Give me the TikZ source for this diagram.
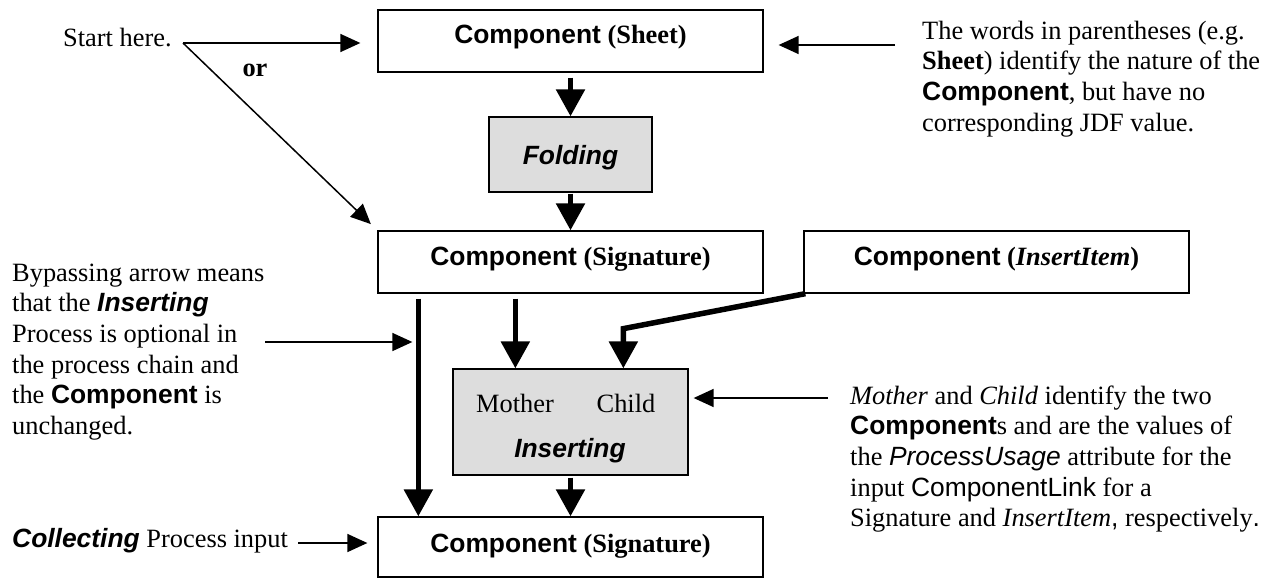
\documentclass[tikz,border=0pt]{standalone}
\usepackage{fontspec}
\setmainfont{Liberation Serif}
\setsansfont{Liberation Sans}
\usetikzlibrary{arrows.meta,calc}
\definecolor{procgray}{RGB}{221,221,221}
\begin{document}
\begin{tikzpicture}[x=1pt,y=-1pt,
  every node/.style={font=\fontsize{26.4}{30.6}\selectfont},
  compbox/.style={draw, line width=1.3pt, minimum width=385pt, minimum height=62pt, inner sep=0pt, text height=18pt, text depth=12pt},
  procbox/.style={draw, line width=1.3pt, fill=procgray, inner sep=0pt},
  thickarrow/.style={line width=5.5pt, -{Triangle[length=27pt,width=28pt]}},
  thinarrow/.style={line width=1.5pt, -{Triangle[length=20pt,width=18pt]}},
  note/.style={inner sep=0pt, align=left, anchor=north west},
  lbl/.style={inner sep=0pt}
  ]
\path[use as bounding box, fill=white] (0,0) rectangle (1281,578);

% boxes
\node[compbox] (sheet) at (570.5,41) {\textsf{\bfseries Component} \textbf{(Sheet)}};
\node[procbox, minimum width=163pt, minimum height=75pt, text height=19pt, text depth=0pt] (folding) at (570.5,154.5) {\textsf{\bfseries\itshape Folding}};
\node[compbox] (sig) at (570.5,262) {\textsf{\bfseries Component} \textbf{(Signature)}};
\node[compbox] (insitem) at (996.5,262) {\textsf{\bfseries Component} \textbf{(\textit{InsertItem})}};
\node[procbox, minimum width=235pt, minimum height=106pt] (inserting) at (570.5,422) {};
\node[lbl, anchor=base] (mother) at (515,412) {Mother};
\node[lbl, anchor=base] (child) at (626,412) {Child};
\node[lbl, anchor=base] (instext) at (570,457) {\textsf{\bfseries\itshape Inserting}};
\node[compbox, minimum height=60pt, text depth=8pt] (sig2) at (570.5,547) {\textsf{\bfseries Component} \textbf{(Signature)}};

% annotations
\node[lbl, anchor=base west] (start) at (63,47) {Start here.};
\node[lbl, anchor=base] (or) at (255,76) {\textbf{or}};
\node[note] (wordsnote) at (922,17.58) {\strut The words in parentheses (e.g.\\
\textbf{Sheet}) identify the nature of the\\
\textsf{\bfseries Component}, but have no\\
corresponding JDF value.};
\node[note] (bypassnote) at (12,259.58) {\strut Bypassing arrow means\\
that the \textsf{\bfseries\itshape Inserting}\\
Process is optional in\\
the process chain and\\
the \textsf{\bfseries Component} is\\
unchanged.};
\node[note] (mothernote) at (850,382.58) {\strut \textit{Mother} and \textit{Child} identify the two\\
\textsf{\bfseries Component}s and are the values of\\
the \textsf{\itshape ProcessUsage} attribute for the\\
input \textsf{ComponentLink} for a\\
Signature and \textit{InsertItem}\textsf{,} respectively\textsf{.}};
\node[lbl, anchor=base west] (collecting) at (12,547) {\textsf{\bfseries\itshape Collecting} Process input};

% main flow
\draw[thickarrow, shorten <=5pt] (sheet.south) -- (folding.north);
\draw[thickarrow, shorten <=1pt] (folding.south) -- (sig.north);
\draw[thickarrow, shorten <=5pt] ([xshift=41pt]sig.south west) -- ([xshift=41pt]sig2.north west);
\draw[thickarrow, shorten <=5pt] ([xshift=138pt]sig.south west) -- ([xshift=63pt]inserting.north west);
\draw[thickarrow, line join=miter] ([xshift=2pt]insitem.south west) -- ++(-182,35) -- ([xshift=171pt]inserting.north west);
\draw[thickarrow, shorten <=2pt] (inserting.south) -- (sig2.north);

% annotation arrows
\coordinate (s0) at (183,43);
\draw[thinarrow, shorten >=17pt] (s0) -- (s0 -| sheet.west);
\draw[thinarrow, shorten >=9pt] (s0) -- (sig.north west);
\coordinate (r0) at (895,45);
\draw[thinarrow, shorten >=15pt] (r0) -- (r0 -| sheet.east);
\coordinate (b0) at (265,342);
\coordinate (bp) at ([xshift=41pt]sig.south west);
\draw[thinarrow, shorten >=6pt] (b0) -- (b0 -| bp);
\coordinate (m0) at (828,398);
\draw[thinarrow, shorten >=5pt] (m0) -- (m0 -| inserting.east);
\coordinate (c0) at (298,543);
\draw[thinarrow, shorten >=10pt] (c0) -- (c0 -| sig2.west);
\end{tikzpicture}
\end{document}
